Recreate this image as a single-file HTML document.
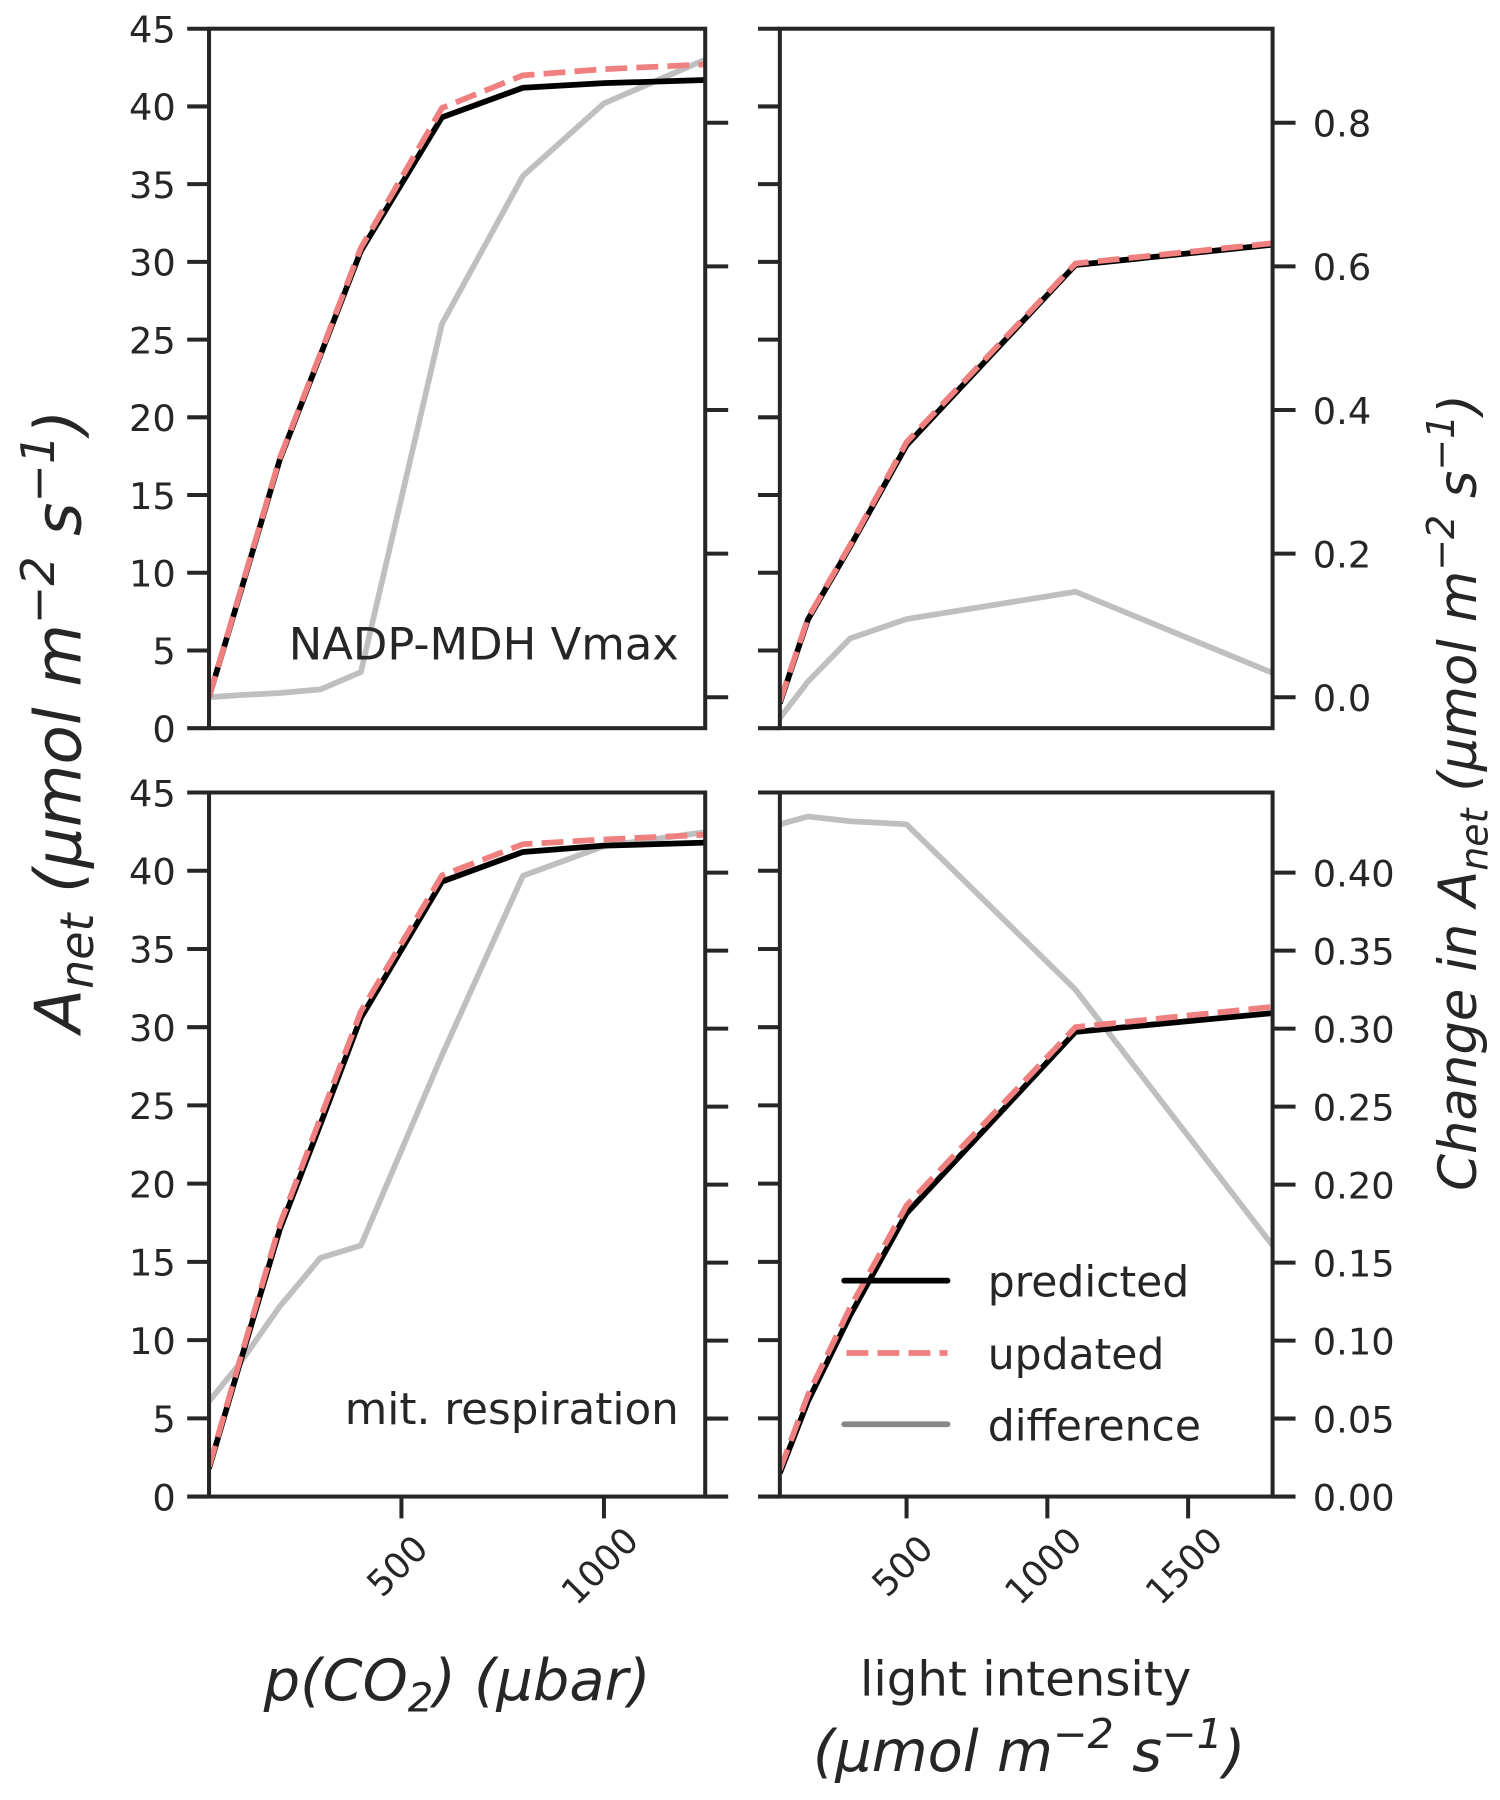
<!DOCTYPE html>
<html><head><meta charset="utf-8"><style>
html,body{margin:0;padding:0;background:#fff;}
svg{display:block;}
text{font-family:"DejaVu Sans","Liberation Sans",sans-serif;fill:#262626;}
</style></head><body>
<svg id="fig" width="1500" height="1800" viewBox="0 0 1306 1567.2" xmlns="http://www.w3.org/2000/svg">
<g id="root"></g>
</svg>
<script>
// ---- data ----
const co2X = [25, 100, 200, 300, 400, 600, 800, 1000, 1250];
const lightX = [50, 150, 300, 500, 1100, 1800];

const tlPredicted = [2.0, 8.5, 17.3, 24.0, 30.7, 39.3, 41.2, 41.5, 41.7];
const tlUpdated   = [2.0, 8.6, 17.4, 24.1, 30.9, 39.9, 42.0, 42.4, 42.7];
const tlDiff      = [0.0, 0.003, 0.006, 0.011, 0.035, 0.52, 0.726, 0.827, 0.888];

const trPredicted = [1.6, 7.0, 11.7, 18.2, 29.8, 31.1];
const trUpdated   = [1.7, 7.1, 11.8, 18.4, 29.9, 31.2];
const trDiff      = [-0.029, 0.022, 0.082, 0.109, 0.147, 0.034];

const blPredicted = [1.8, 8.4, 17.1, 23.8, 30.6, 39.3, 41.2, 41.6, 41.8];
const blUpdated   = [1.9, 8.6, 17.4, 24.2, 31.0, 39.7, 41.7, 42.0, 42.3];
const blDiff      = [0.061, 0.085, 0.122, 0.153, 0.161, 0.283, 0.398, 0.417, 0.426];

const brPredicted = [1.5, 6.1, 11.6, 18.1, 29.7, 30.9];
const brUpdated   = [1.7, 6.5, 12.1, 18.6, 30.0, 31.3];
const brDiff      = [0.431, 0.436, 0.433, 0.431, 0.325, 0.161];

const yTicks = [0,5,10,15,20,25,30,35,40,45];
const topRightTicks = [0.0,0.2,0.4,0.6,0.8];
const topRightLabels = ["0.0","0.2","0.4","0.6","0.8"];
const botRightTicks = [0,0.05,0.10,0.15,0.20,0.25,0.30,0.35,0.40];
const botRightLabels = ["0.00","0.05","0.10","0.15","0.20","0.25","0.30","0.35","0.40"];
const co2Ticks = [500,1000];
const lightTicks = [500,1000,1500];

// ---- drawing ----
const NS="http://www.w3.org/2000/svg";
const root=document.getElementById('root');
function mk(tag,attrs,parent){const e=document.createElementNS(NS,tag);for(const k in attrs)e.setAttribute(k,attrs[k]);(parent||root).appendChild(e);return e;}
function lin(d0,d1,r0,r1){return v=>r0+(v-d0)*(r1-r0)/(d1-d0);}
const SP="#262626";

const cols=[{x0:182,x1:614,dom:[25,1250],xs:co2X,ticks:co2Ticks},{x0:679,x1:1108,dom:[50,1800],xs:lightX,ticks:lightTicks}];
const rows=[{y0:25,y1:634,sec:[-0.043,0.931],secTicks:topRightTicks,secLabels:topRightLabels},
            {y0:690,y1:1303,sec:[0,0.4514],secTicks:botRightTicks,secLabels:botRightLabels}];
const panels=[
 {r:0,c:0,p:tlPredicted,u:tlUpdated,d:tlDiff,name:'top-left'},
 {r:0,c:1,p:trPredicted,u:trUpdated,d:trDiff,name:'top-right'},
 {r:1,c:0,p:blPredicted,u:blUpdated,d:blDiff,name:'bottom-left'},
 {r:1,c:1,p:brPredicted,u:brUpdated,d:brDiff,name:'bottom-right'}];

function path(xs,ys,fx,fy){return xs.map((x,i)=>(i?'L':'M')+fx(x).toFixed(1)+','+fy(ys[i]).toFixed(1)).join(' ');}

panels.forEach(P=>{
  const C=cols[P.c],R=rows[P.r];
  const g=mk('g',{});
  
  
  const fx=lin(C.dom[0],C.dom[1],C.x0,C.x1);
  const fy=lin(0,45,R.y1,R.y0);
  const fs=lin(R.sec[0],R.sec[1],R.y1,R.y0);
  const clipId='clip'+P.r+P.c;
  const cp=mk('clipPath',{id:clipId},g);
  mk('rect',{x:C.x0,y:R.y0,width:C.x1-C.x0,height:R.y1-R.y0},cp);
  const lg=mk('g',{'clip-path':'url(#'+clipId+')'},g);
  const gd=mk('path',{d:path(C.xs,P.d,fx,fs),fill:'none',stroke:'#bfbfbf','stroke-width':5,'stroke-linejoin':'round'},lg);
  
  
  const pb=mk('path',{d:path(C.xs,P.p,fx,fy),fill:'none',stroke:'#000','stroke-width':5,'stroke-linejoin':'round'},lg);
  
  
  const pu=mk('path',{d:path(C.xs,P.u,fx,fy),fill:'none',stroke:'#f08080','stroke-width':5,'stroke-dasharray':'19 8'},lg);
  
  
  const sp=mk('rect',{x:C.x0,y:R.y0,width:C.x1-C.x0,height:R.y1-R.y0,fill:'none',stroke:SP,'stroke-width':3.5},g);
  
  
  yTicks.forEach(v=>{
    const y=fy(v);
    mk('line',{x1:C.x0-19,x2:C.x0,y1:y,y2:y,stroke:SP,'stroke-width':3.5},g);
    if(P.c===0){const t=mk('text',{x:C.x0-29,y:y+12,'text-anchor':'end','font-size':32},g);t.textContent=v;
      
      }
  });
  R.secTicks.forEach((v,i)=>{
    const y=fs(v);
    mk('line',{x1:C.x1,x2:C.x1+20,y1:y,y2:y,stroke:SP,'stroke-width':3.5},g);
    if(P.c===1){const t=mk('text',{x:C.x1+35,y:y+12,'text-anchor':'start','font-size':32},g);t.textContent=R.secLabels[i];
      
      }
  });
  if(P.r===1){
    C.ticks.forEach(v=>{
      const x=fx(v);
      mk('line',{x1:x,x2:x,y1:R.y1,y2:R.y1+19,stroke:SP,'stroke-width':3.5},g);
      const t=mk('text',{x:0,y:0,'text-anchor':'middle','font-size':31,transform:'translate('+(x+4)+','+(R.y1+68)+') rotate(-45)'},g);
      t.textContent=v;
      
      
    });
  }
});
</script>
<svg style="position:absolute;left:0;top:0" width="1500" height="1800" viewBox="0 0 1306 1567.2" xmlns="http://www.w3.org/2000/svg">
<text x="591" y="574" text-anchor="end" font-size="39">NADP-MDH Vmax</text>
<text x="591" y="1240" text-anchor="end" font-size="38">mit. respiration</text>
<text transform="translate(70,628) rotate(-90)" text-anchor="middle" font-size="56" font-style="italic">A<tspan font-size="40" dy="11">net</tspan><tspan dy="-11"> (μmol m</tspan><tspan font-size="40" dy="-23">−2</tspan><tspan dy="23"> s</tspan><tspan font-size="40" dy="-23">−1</tspan><tspan dy="23">)</tspan></text>
<text transform="translate(1285,690) rotate(-90)" text-anchor="middle" font-size="46" font-style="italic">Change in A<tspan font-size="33" dy="10">net</tspan><tspan dy="-10"> (μmol m</tspan><tspan font-size="33" dy="-19">−2</tspan><tspan dy="19"> s</tspan><tspan font-size="33" dy="-19">−1</tspan><tspan dy="19">)</tspan></text>
<text x="398" y="1480" text-anchor="middle" font-size="50" font-style="italic">p(CO<tspan font-size="35" dy="10">2</tspan><tspan dy="-10">) (μbar)</tspan></text>
<text x="893" y="1476" text-anchor="middle" font-size="42">light intensity</text>
<text x="896" y="1542" text-anchor="middle" font-size="50" font-style="italic">(μmol m<tspan font-size="36" dy="-20">−2</tspan><tspan dy="20"> s</tspan><tspan font-size="36" dy="-20">−1</tspan><tspan dy="20">)</tspan></text>
<g>
<line x1="735" x2="825" y1="1115" y2="1115" stroke="#000" stroke-width="5" stroke-linecap="round"/>
<text x="860" y="1129" font-size="37">predicted</text>
<line x1="737" x2="825" y1="1178" y2="1178" stroke="#f08080" stroke-width="5" stroke-dasharray="19 8"/>
<text x="860" y="1192" font-size="37">updated</text>
<line x1="735" x2="825" y1="1240" y2="1240" stroke="#888" stroke-width="5" stroke-linecap="round"/>
<text x="860" y="1254" font-size="37">difference</text>
</g>
</svg>
</body></html>
